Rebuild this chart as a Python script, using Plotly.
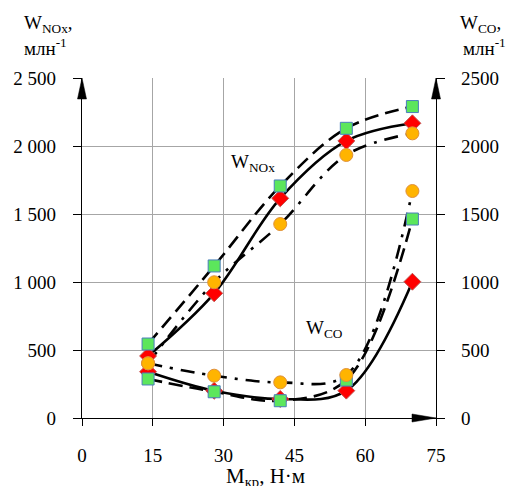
import plotly.graph_objects as go

# torque, N·m
torque = [14, 28, 42, 56, 70]

# NOx, ppm
nox_solid = [456, 917, 1615, 2037, 2167]     # red diamonds
nox_dash = [544, 1118, 1706, 2130, 2290]     # green squares
nox_dashdot = [402, 998, 1426, 1934, 2093]   # orange circles

# CO, ppm
co_solid = [340, 200, 140, 201, 1002]
co_dash = [287, 193, 127, 279, 1463]
co_dashdot = [402, 311, 262, 316, 1669]

x_ticks = [0, 15, 30, 45, 60, 75]
y_ticks = [0, 500, 1000, 1500, 2000, 2500]
y_left_text = ["0", "500", "1 000", "1 500", "2 000", "2 500"]
y_right_text = ["0", "500", "1000", "1500", "2000", "2500"]

FONT = "Liberation Serif"
OFF = 8  # page body margin
W, H = 516, 486
# desired plot area in page pixels
PL, PR, PT, PB = 82, 436, 78, 418
L, T = PL - OFF, PT - OFF
R, B = W - (PR - OFF), H - (PB - OFF)
pw, ph = W - L - R, H - T - B

fig = go.Figure()

line_w = 2.6
styles = {
    "solid": dict(color="black", width=line_w, dash="solid"),
    "dash": dict(color="black", width=line_w, dash="14px,7px"),
    "dashdot": dict(color="black", width=line_w, dash="14px,8px,3px,8px"),
}
for ys, st in [(nox_solid, "solid"), (nox_dash, "dash"), (nox_dashdot, "dashdot"),
               (co_solid, "solid"), (co_dash, "dash"), (co_dashdot, "dashdot")]:
    fig.add_trace(go.Scatter(x=torque, y=ys, mode="lines", line=styles[st],
                             line_shape="spline", line_smoothing=1.0,
                             showlegend=False, hoverinfo="skip"))

red_m = dict(symbol="diamond", size=13, color="#ff0000", line=dict(color="#c0504d", width=1))
green_m = dict(symbol="square", size=12, color="#5ce65c", line=dict(color="#4a7ebb", width=1))
orange_m = dict(symbol="circle", size=13, color="#ffb400", line=dict(color="#e0903a", width=1))
for ys, m in [(nox_solid, red_m), (co_solid, red_m),
              (nox_dash, green_m), (co_dash, green_m),
              (nox_dashdot, orange_m), (co_dashdot, orange_m)]:
    fig.add_trace(go.Scatter(x=torque, y=ys, mode="markers", marker=m,
                             showlegend=False, hoverinfo="skip"))

# dummy trace for right axis
fig.add_trace(go.Scatter(x=[None], y=[None], yaxis="y2", showlegend=False))

tickfont = dict(family=FONT, size=19, color="black")
fig.update_layout(
    width=W, height=H,
    margin=dict(l=L, r=R, t=T, b=B, autoexpand=False),
    paper_bgcolor="white", plot_bgcolor="white",
    xaxis=dict(range=[0, 75], tickvals=x_ticks, ticks="outside", ticklen=7,
               tickcolor="black", showline=True, linecolor="black", linewidth=1.3,
               showgrid=True, gridcolor="#a6a6a6", gridwidth=1, zeroline=False,
               tickfont=tickfont, ticklabelstandoff=13, automargin=False),
    yaxis=dict(range=[0, 2500], tickvals=y_ticks, ticktext=y_left_text,
               ticks="outside", ticklen=8, tickcolor="black", showline=True,
               linecolor="black", linewidth=1.3, showgrid=True,
               gridcolor="#a6a6a6", gridwidth=1, zeroline=False,
               tickfont=tickfont, ticklabelstandoff=13, automargin=False),
    yaxis2=dict(range=[0, 2500], tickvals=y_ticks, ticktext=y_right_text,
                overlaying="y", side="right", ticks="outside", ticklen=8,
                tickcolor="black", showline=True, linecolor="black", linewidth=1.3,
                showgrid=False, zeroline=False, tickfont=tickfont,
                ticklabelstandoff=12, automargin=False),
)

# axis arrows (paper coordinates)
aw, ah = 4.5 / pw, 21 / ph
for xp in (0, 1):
    fig.add_shape(type="path", xref="paper", yref="paper",
                  path=f"M {xp} 1 L {xp - aw} {1 - ah} L {xp + aw} {1 - ah} Z",
                  fillcolor="black", line=dict(color="black", width=0.5), layer="above")
bw, bh = 24 / pw, 4 / ph
fig.add_shape(type="path", xref="paper", yref="paper",
              path=f"M 1 0 L {1 - bw} {bh} L {1 - bw} {-bh} Z",
              fillcolor="black", line=dict(color="black", width=0.5), layer="above")

def ann(text, px, py, size=19, xanchor="left"):
    # px, py are page pixel positions
    fx, fy = px - OFF, py - OFF
    fig.add_annotation(text=text, xref="paper", yref="paper",
                       x=(fx - L) / pw, y=(H - B - fy) / ph, showarrow=False,
                       xanchor=xanchor, yanchor="middle", align="left",
                       font=dict(family=FONT, size=size, color="black"))

ann("W<sub>NOx</sub>,", 22, 24)
ann("млн<sup>-1</sup>", 22, 47)
ann("W<sub>CO</sub>,", 458, 24)
ann("млн<sup>-1</sup>", 461, 47)
ann("W<sub>NOx</sub>", 229, 163)
ann("W<sub>CO</sub>", 304, 329)
ann("M<sub>кр</sub>, Н·м", 224, 477, size=21)

fig.write_html("out.html")
